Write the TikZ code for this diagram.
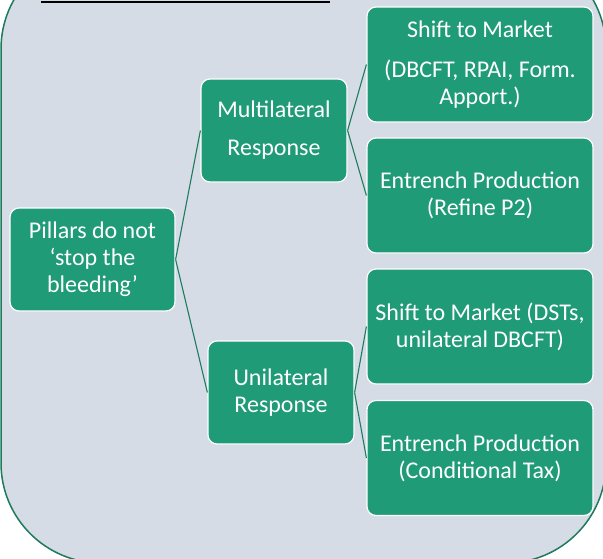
\documentclass[tikz,border=0pt]{standalone}
\usepackage{fontspec}
\setmainfont{Carlito}
\definecolor{bgfill}{HTML}{D6DCE5}
\definecolor{frame}{HTML}{1D7A5C}
\definecolor{boxfill}{HTML}{1F9B77}
\definecolor{linkc}{HTML}{1E7B5E}
\begin{document}
\begin{tikzpicture}[x=1pt,y=-1pt,
  box/.style={draw=white,line width=1.2pt,fill=boxfill,rounded corners=9pt,
    text=white,align=center,inner sep=0pt,
    font=\fontsize{24}{27}\selectfont},
  link/.style={draw=linkc,line width=1.1pt}]
\useasboundingbox (0,0) rectangle (603,558);
\clip (0,0) rectangle (603,558);
\fill[white] (0,0) rectangle (603,558);
\draw[frame,fill=bgfill,line width=1.5pt,rounded corners=100pt] (1,-51) rectangle (606,563);
\draw[black,line width=1.4pt] (41,2) -- (330,2);
% boxes
\node[box,minimum width=165pt,minimum height=103pt] (pil) at (92.5,259.5)
  {\fontsize{24}{25.5}\selectfont Pillars do not\\‘stop the\\bleeding’};
\node[box,minimum width=146pt,minimum height=103pt] (mul) at (274,130.5)
  {Multilateral\\[11pt]Response};
\node[box,minimum width=146pt,minimum height=103pt] (uni) at (281,392.5)
  {Unilateral\\Response};
\node[box,minimum width=226pt,minimum height=115pt] (s1) at (480,64.5)
  {Shift to Market\\[13pt]\fontsize{24}{24}\selectfont (DBCFT, RPAI, Form.\\Apport.)};
\node[box,minimum width=226pt,minimum height=115pt] (e1) at (480,195.5)
  {Entrench Production\\(Refine P2)};
\node[box,minimum width=226pt,minimum height=115pt] (s2) at (480,326.5)
  {Shift to Market (DSTs,\\unilateral DBCFT)};
\node[box,minimum width=226pt,minimum height=115pt] (e2) at (480,458)
  {Entrench Production\\(Conditional Tax)};
% connectors
\draw[link] (pil.east) -- (mul.west);
\draw[link] (pil.east) -- (uni.west);
\draw[link] (mul.east) -- (s1.west);
\draw[link] (mul.east) -- (e1.west);
\draw[link] (uni.east) -- (s2.west);
\draw[link] (uni.east) -- (e2.west);
\end{tikzpicture}
\end{document}
